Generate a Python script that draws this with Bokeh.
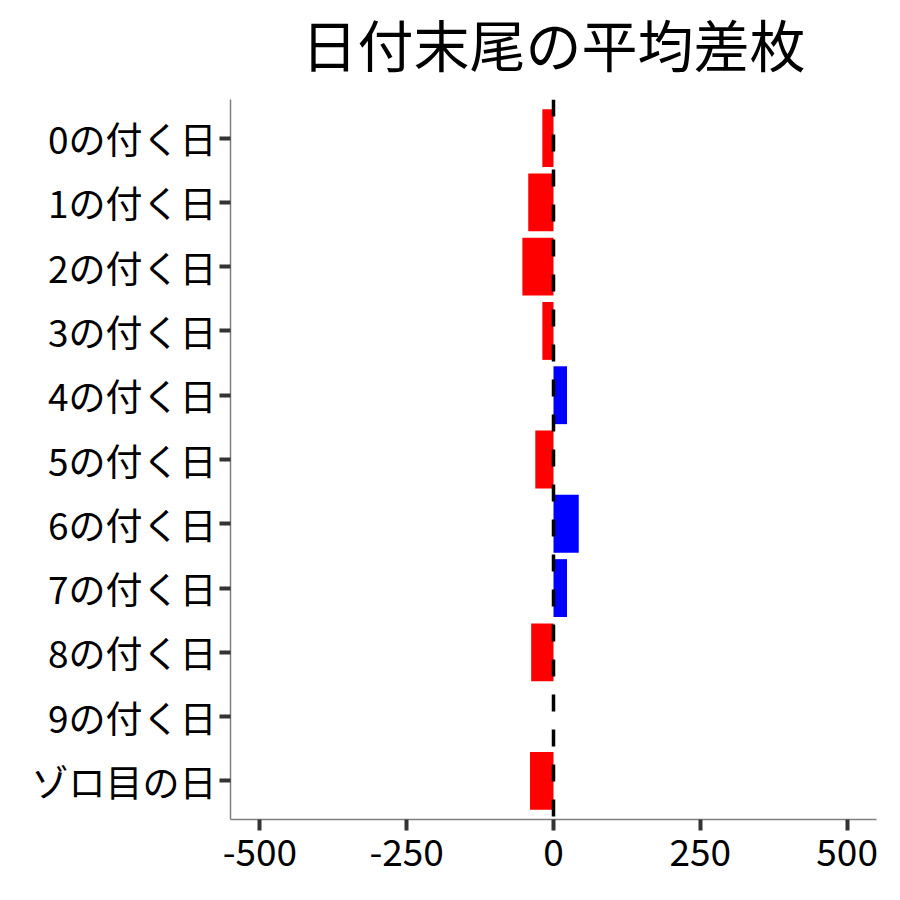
from bokeh.plotting import figure
from bokeh.models import FactorRange, Range1d, FixedTicker, Span, ColumnDataSource, Title
from bokeh.embed import file_html
from bokeh.resources import INLINE

# ---- data ----
categories = ["0の付く日", "1の付く日", "2の付く日", "3の付く日", "4の付く日",
              "5の付く日", "6の付く日", "7の付く日", "8の付く日", "9の付く日", "ゾロ目の日"]
mean_diff = [-19, -43, -53, -19, 23, -31, 43, 23, -38, 0, -40]
x_ticks = [-500, -250, 0, 250, 500]
x_tick_labels = ["-500", "-250", "0", "250", "500"]
title_text = "日付末尾の平均差枚"

FONT = "Noto Sans CJK JP"
NEG_COLOR = "#FF0000"
POS_COLOR = "#0000FF"

colors = [NEG_COLOR if v < 0 else POS_COLOR for v in mean_diff]
src = ColumnDataSource(dict(cat=categories, val=mean_diff, color=colors))

SHIFT = 18
W, H = 892, 892 + SHIFT
ML, MR, MT, MB = 230, 16, 10, 73
n = len(categories)
p = figure(
    width=W, height=H,
    y_range=FactorRange(factors=list(reversed(categories)),
                        range_padding=0.2 / n, range_padding_units="percent"),
    x_range=Range1d(-550, 550),
    output_backend="svg", toolbar_location=None,
    min_border_left=ML, min_border_right=MR, min_border_top=MT, min_border_bottom=MB,
)
p.styles = {"margin-top": f"-{SHIFT}px"}
p.title = Title(text=title_text, align="center", offset=3, text_font=FONT,
                text_font_size="56px", text_font_style="normal", text_color="black",
                standoff=34)

p.hbar(y="cat", right="val", left=0, height=0.9, color="color", line_color=None, source=src)

p.add_layout(Span(location=0, dimension="height", line_color="black",
                  line_width=3.5, line_dash="17 18"))

p.xgrid.visible = False
p.ygrid.visible = False
p.outline_line_color = None
p.background_fill_color = "white"
p.border_fill_color = "white"

p.xaxis.ticker = FixedTicker(ticks=x_ticks)
p.xaxis.major_label_overrides = dict(zip(x_ticks, x_tick_labels))
for ax in (p.xaxis[0], p.yaxis[0]):
    ax.axis_line_color = "#808080"
    ax.axis_line_width = 1.5
    ax.major_tick_line_color = "#333333"
    ax.major_tick_line_width = 4
    ax.major_tick_in = 0
    ax.major_tick_out = 11
    ax.minor_tick_line_color = None
    ax.major_label_text_font = FONT
    ax.major_label_text_font_size = "37px"
    ax.major_label_text_color = "black"
p.xaxis.major_label_standoff = 8
p.yaxis.major_label_standoff = 3

open("out.html", "w").write(file_html(p, INLINE))
